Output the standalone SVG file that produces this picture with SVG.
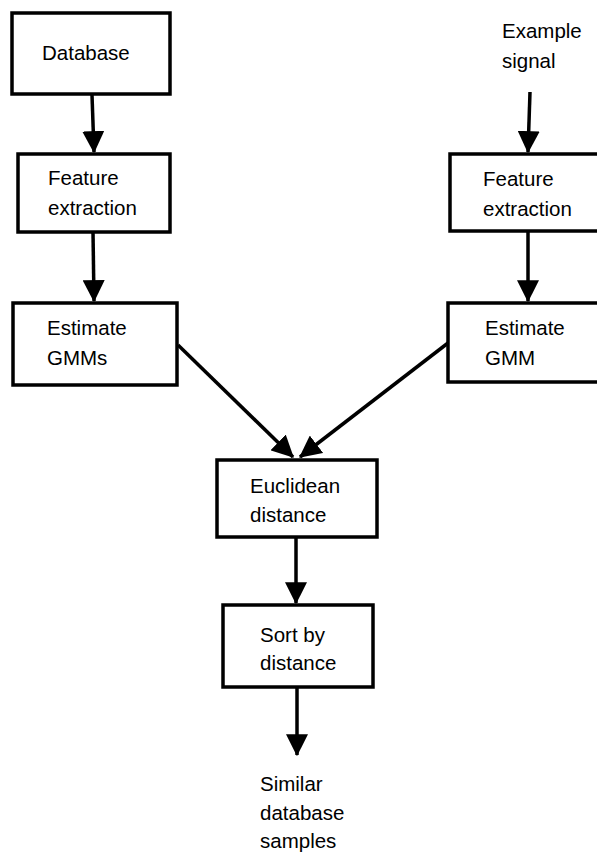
<svg xmlns="http://www.w3.org/2000/svg" width="597" height="852" viewBox="0 0 597 852">
<defs>
<marker id="ah" markerUnits="userSpaceOnUse" markerWidth="22" markerHeight="22" viewBox="0 0 19 19" refX="18" refY="9.5" orient="auto">
<path d="M0,0 L19,9.5 L0,19 Z" fill="#000"/>
</marker>
<style>
.box{fill:#fff;stroke:#000;stroke-width:3.5}
.t{font-family:"Liberation Sans",Arial,sans-serif;font-size:20.5px;fill:#000}
.c{stroke:#000;stroke-width:3.5;fill:none;marker-end:url(#ah)}
</style>
</defs>
<rect width="597" height="852" fill="#fff"/>
<g id="connectors">
<line class="c" x1="92" y1="95" x2="94" y2="152"/>
<line class="c" x1="530" y1="92" x2="528" y2="152"/>
<line class="c" x1="93" y1="232" x2="94" y2="301"/>
<line class="c" x1="528" y1="231" x2="528" y2="301"/>
<line class="c" x1="178" y1="345" x2="293" y2="457"/>
<line class="c" x1="448" y1="343" x2="300" y2="457"/>
<line class="c" x1="296" y1="537" x2="296" y2="603"/>
<line class="c" x1="297" y1="687" x2="297" y2="755"/>
</g>
<g id="database"><rect class="box" x="12" y="13" width="158" height="81"/><text class="t" x="42" y="60">Database</text></g>
<g id="example"><text class="t" x="502" y="38">Example</text><text class="t" x="502" y="68">signal</text></g>
<g id="fe-left"><rect class="box" x="18" y="154" width="152" height="78"/><text class="t" x="48" y="185">Feature</text><text class="t" x="48" y="215">extraction</text></g>
<g id="fe-right"><rect class="box" x="450" y="154" width="160" height="77"/><text class="t" x="483" y="186">Feature</text><text class="t" x="483" y="216">extraction</text></g>
<g id="gmm-left"><rect class="box" x="13" y="303" width="164" height="82"/><text class="t" x="47" y="335">Estimate</text><text class="t" x="47" y="365">GMMs</text></g>
<g id="gmm-right"><rect class="box" x="448" y="303" width="160" height="79"/><text class="t" x="485" y="335">Estimate</text><text class="t" x="485" y="365">GMM</text></g>
<g id="euclid"><rect class="box" x="217" y="460" width="160" height="77"/><text class="t" x="250" y="493">Euclidean</text><text class="t" x="250" y="522">distance</text></g>
<g id="sort"><rect class="box" x="223" y="605" width="150" height="82"/><text class="t" x="260" y="642">Sort by</text><text class="t" x="260" y="670">distance</text></g>
<g id="similar"><text class="t" x="260" y="791">Similar</text><text class="t" x="260" y="820">database</text><text class="t" x="260" y="848">samples</text></g>
</svg>
